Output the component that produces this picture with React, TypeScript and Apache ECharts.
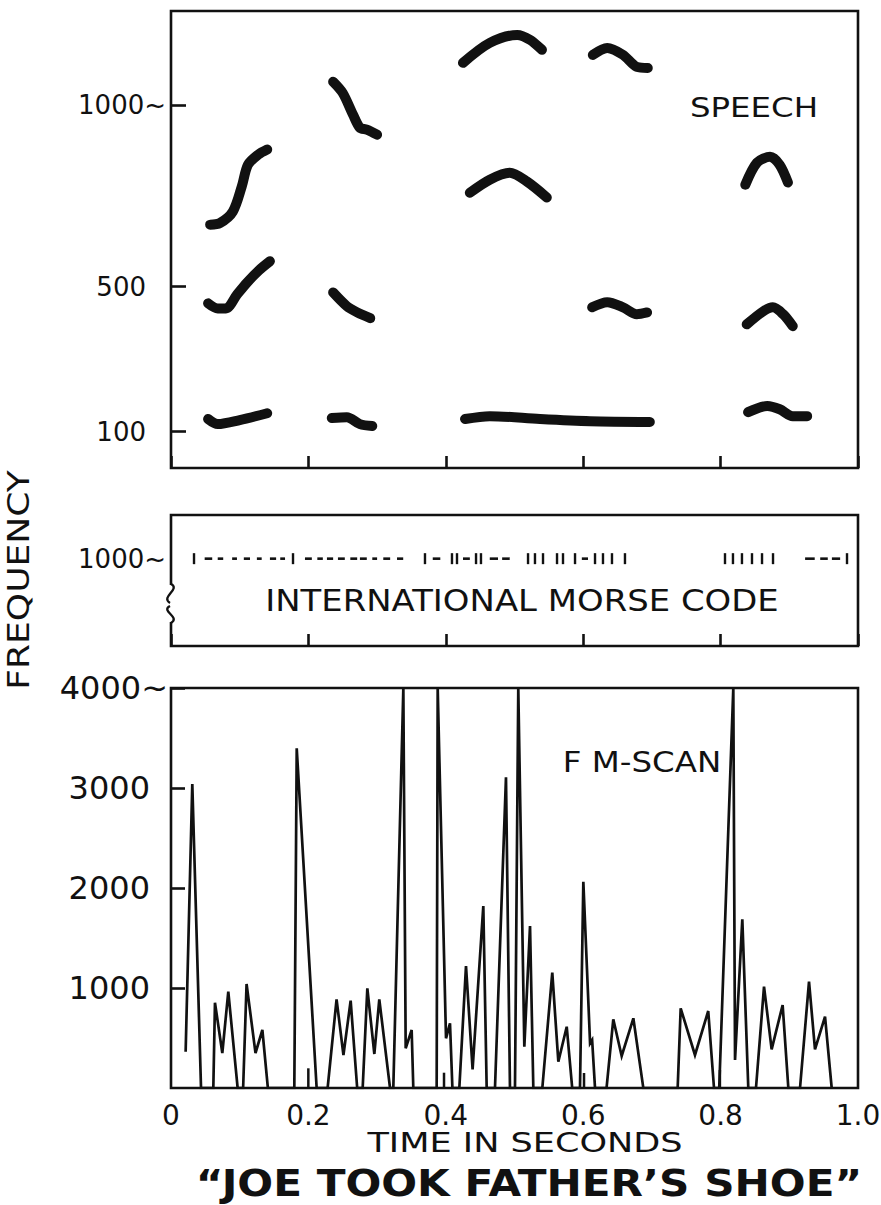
import React, { useEffect, useRef } from "react";
import * as echarts from "echarts";

const INK = "#111111";
const FONT = "DejaVu Sans";

// ---------- axes ----------
const TIME_MIN = 0;
const TIME_MAX = 1.0;
const TIME_STEP = 0.2;
const SPEECH_Y_TICKS = [100, 500, 1000];
const MORSE_Y_TICKS = [1000];
const FM_Y_TICKS = [1000, 2000, 3000, 4000];

// ---------- SPEECH formant strokes: [time s, frequency Hz] ----------
const strokeJoeF1 = [[0.054, 135], [0.068, 121], [0.1, 132], [0.14, 151]];
const strokeJoeF2 = [[0.054, 454], [0.068, 440], [0.08, 440], [0.096, 478], [0.111, 512], [0.128, 545], [0.144, 570]];
const strokeJoeF3 = [[0.057, 671], [0.071, 675], [0.09, 707], [0.103, 776], [0.112, 836], [0.127, 864], [0.14, 878]];
const strokeTookF3 = [[0.236, 1065], [0.25, 1034], [0.265, 974], [0.275, 938], [0.285, 933], [0.3, 919]];
const strokeTookF2 = [[0.236, 484], [0.256, 446], [0.271, 429], [0.29, 413]];
const strokeTookF1 = [[0.234, 138], [0.256, 140], [0.275, 121], [0.293, 116]];
const strokeFaF3 = [[0.425, 1117], [0.464, 1172], [0.504, 1194], [0.523, 1180], [0.54, 1153]];
const strokeFaF2 = [[0.435, 759], [0.464, 795], [0.493, 814], [0.518, 790], [0.547, 746]];
const strokeFaF1 = [[0.428, 135], [0.464, 143], [0.537, 135], [0.61, 129], [0.697, 127]];
const strokeTherF3 = [[0.614, 1139], [0.635, 1158], [0.658, 1139], [0.678, 1106], [0.694, 1103]];
const strokeTherF2 = [[0.613, 443], [0.635, 457], [0.658, 443], [0.678, 424], [0.693, 429]];
const strokeShoeF2 = [[0.836, 781], [0.853, 842], [0.872, 858], [0.886, 836], [0.898, 787]];
const strokeShoeF1b = [[0.838, 396], [0.862, 432], [0.876, 443], [0.891, 424], [0.905, 391]];
const strokeShoeF1 = [[0.84, 154], [0.868, 171], [0.886, 162], [0.905, 143], [0.926, 143]];

const speechStrokes = [
  strokeJoeF1, strokeJoeF2, strokeJoeF3,
  strokeTookF3, strokeTookF2, strokeTookF1,
  strokeFaF3, strokeFaF2, strokeFaF1,
  strokeTherF3, strokeTherF2,
  strokeShoeF2, strokeShoeF1b, strokeShoeF1,
];

// ---------- MORSE: dashes [start s, end s, Hz], dots [time s, Hz] ----------
const morseDashes = [
  [0.049, 0.06, 1000], [0.068, 0.076, 1000], [0.089, 0.096, 1000], [0.106, 0.115, 1000],
  [0.125, 0.132, 1000], [0.144, 0.153, 1000], [0.159, 0.166, 1000],
  [0.195, 0.205, 1000], [0.213, 0.221, 1000], [0.227, 0.236, 1000], [0.243, 0.253, 1000],
  [0.261, 0.271, 1000], [0.275, 0.285, 1000], [0.293, 0.3, 1000], [0.309, 0.319, 1000],
  [0.329, 0.338, 1000],
  [0.381, 0.392, 1000], [0.425, 0.435, 1000], [0.464, 0.476, 1000], [0.482, 0.493, 1000],
  [0.598, 0.607, 1000],
  [0.923, 0.937, 1000], [0.945, 0.956, 1000], [0.962, 0.974, 1000],
];
const morseDots = [
  [0.0335, 1000], [0.1776, 1000], [0.3697, 1000], [0.409, 1000], [0.4163, 1000],
  [0.444, 1000], [0.4512, 1000], [0.5197, 1000], [0.5298, 1000], [0.5415, 1000],
  [0.5619, 1000], [0.5706, 1000], [0.5881, 1000], [0.6172, 1000], [0.6288, 1000],
  [0.6419, 1000], [0.6608, 1000], [0.8064, 1000], [0.818, 1000], [0.8311, 1000],
  [0.8457, 1000], [0.8603, 1000], [0.8763, 1000], [0.984, 1000],
];

// ---------- FM-SCAN trace: [time s, frequency Hz] ----------
const fmScan = [
  [0.0213, 363], [0.031, 3040], [0.0437, 0],
  [0.0616, 0], [0.064, 853], [0.0747, 350], [0.0834, 963], [0.097, 0],
  [0.105, 0], [0.11, 1040], [0.123, 350], [0.133, 580], [0.141, 0],
  [0.1795, 0], [0.183, 3397], [0.212, 0],
  [0.228, 0], [0.241, 887], [0.251, 330], [0.2615, 873], [0.271, 0],
  [0.279, 0], [0.2858, 997], [0.296, 340], [0.3032, 887], [0.3188, 0],
  [0.3236, 0], [0.3382, 4000], [0.3416, 397], [0.3503, 580], [0.3527, 0],
  [0.3867, 0], [0.3882, 4000], [0.4003, 497], [0.4061, 647], [0.4096, 0],
  [0.4197, 0], [0.4294, 1220], [0.439, 187], [0.4546, 1820], [0.4595, 0],
  [0.4716, 0], [0.4876, 3107], [0.4934, 0],
  [0.5007, 0], [0.5055, 4000], [0.5143, 413], [0.5226, 1620], [0.5274, 0],
  [0.5405, 0], [0.555, 1153], [0.5638, 263], [0.576, 613], [0.584, 0],
  [0.5953, 0], [0.6002, 2063], [0.61, 447], [0.613, 480], [0.6172, 0],
  [0.634, 0], [0.6438, 687], [0.656, 320], [0.673, 697], [0.6875, 0],
  [0.7375, 0], [0.7419, 797], [0.7627, 330], [0.782, 770], [0.7904, 0],
  [0.798, 0], [0.8185, 4000], [0.821, 280], [0.8316, 1687], [0.8403, 0],
  [0.8515, 0], [0.8632, 1013], [0.8743, 387], [0.8903, 830], [0.8986, 0],
  [0.9156, 0], [0.9287, 1063], [0.9374, 387], [0.952, 713], [0.9617, 0],
];
const fmSmallSpikes = [[0.1999, 197], [0.3974, 153], [0.6012, 150], [0.799, 180]];

function tildeLabel(tilded: number, fontSize: number, pad: number) {
  return {
    formatter: (v: number) => (v === tilded ? `${v}~` : `{p|${v}}`),
    rich: { p: { padding: [0, pad, 0, 0], fontSize, fontFamily: FONT, color: INK } },
  };
}

export default function App() {
  const ref = useRef<HTMLDivElement>(null);

  useEffect(() => {
    if (!ref.current) return;
    const chart = echarts.init(ref.current, null, { renderer: "svg" });

    const grids = [
      { left: 171, top: 11, width: 687, height: 457 },
      { left: 171, top: 515, width: 687, height: 131 },
      { left: 171, top: 688, width: 687, height: 400 },
    ].map((g) => ({
      ...g,
      show: true,
      borderColor: INK,
      borderWidth: 2.6,
      backgroundColor: "transparent",
      containLabel: false,
      outerBoundsMode: "none",
    }));

    const tickStyle = { color: INK, width: 2.6 };

    const xAxes = [0, 1, 2].map((i) => ({
      type: "value",
      gridIndex: i,
      min: TIME_MIN,
      max: TIME_MAX,
      interval: TIME_STEP,
      axisLine: { show: false },
      splitLine: { show: false },
      axisTick: { show: i < 2, inside: true, length: 12, lineStyle: tickStyle },
      axisLabel:
        i === 2
          ? {
              show: true,
              margin: 13,
              fontSize: 28,
              fontFamily: FONT,
              color: INK,
              formatter: (v: number) => (v === 0 ? "0" : v.toFixed(1)),
            }
          : { show: false },
    }));

    const yAxes = [
      {
        type: "value",
        gridIndex: 0,
        min: 0,
        max: 1260,
        axisLine: { show: false },
        splitLine: { show: false },
        axisTick: { show: true, inside: true, length: 15, lineStyle: tickStyle, customValues: SPEECH_Y_TICKS },
        axisLabel: {
          show: true,
          customValues: SPEECH_Y_TICKS,
          margin: 5,
          fontSize: 26,
          fontFamily: FONT,
          color: INK,
          ...tildeLabel(1000, 26, 20),
        },
      },
      {
        type: "value",
        gridIndex: 1,
        min: 0,
        max: 1500,
        axisLine: { show: false },
        splitLine: { show: false },
        axisTick: { show: false },
        axisLabel: {
          show: true,
          customValues: MORSE_Y_TICKS,
          margin: 5,
          fontSize: 26,
          fontFamily: FONT,
          color: INK,
          formatter: (v: number) => `${v}~`,
        },
      },
      {
        type: "value",
        gridIndex: 2,
        min: 0,
        max: 4000,
        interval: 1000,
        axisLine: { show: false },
        splitLine: { show: false },
        axisTick: { show: true, inside: true, length: 14, lineStyle: tickStyle, customValues: FM_Y_TICKS },
        axisLabel: {
          show: true,
          customValues: FM_Y_TICKS,
          margin: 3,
          fontSize: 32,
          fontFamily: FONT,
          color: INK,
          ...tildeLabel(4000, 32, 18),
        },
      },
    ];

    const speechSeries = speechStrokes.map((data, k) => ({
      type: "line",
      name: `speech-${k}`,
      xAxisIndex: 0,
      yAxisIndex: 0,
      data,
      smooth: 0.3,
      showSymbol: false,
      symbol: "none",
      lineStyle: { color: INK, width: 10, cap: "round", join: "round" },
      silent: true,
    }));

    const series: any[] = [
      ...speechSeries,
      {
        type: "custom",
        name: "morse-dashes",
        xAxisIndex: 1,
        yAxisIndex: 1,
        data: morseDashes,
        encode: { x: [0, 1], y: 2 },
        renderItem: (_p: any, api: any) => {
          const a = api.coord([api.value(0), api.value(2)]);
          const b = api.coord([api.value(1), api.value(2)]);
          return {
            type: "line",
            shape: { x1: a[0], y1: a[1], x2: b[0], y2: b[1] },
            style: { stroke: INK, lineWidth: 2.6 },
          };
        },
        silent: true,
      },
      {
        type: "custom",
        name: "morse-dots",
        xAxisIndex: 1,
        yAxisIndex: 1,
        data: morseDots,
        encode: { x: 0, y: 1 },
        renderItem: (_p: any, api: any) => {
          const p = api.coord([api.value(0), api.value(1)]);
          return {
            type: "line",
            shape: { x1: p[0], y1: p[1] - 5.5, x2: p[0], y2: p[1] + 5.5 },
            style: { stroke: INK, lineWidth: 2.4 },
          };
        },
        silent: true,
      },
      {
        type: "line",
        name: "fm-scan",
        xAxisIndex: 2,
        yAxisIndex: 2,
        data: fmScan,
        showSymbol: false,
        symbol: "none",
        lineStyle: { color: INK, width: 2.7, join: "miter" },
        silent: true,
      },
      {
        type: "bar",
        name: "fm-spikes",
        xAxisIndex: 2,
        yAxisIndex: 2,
        data: fmSmallSpikes,
        barWidth: 2.5,
        itemStyle: { color: INK },
        silent: true,
      },
    ];

    const txt = (
      text: string,
      x: number,
      y: number,
      fontSize: number,
      scaleX = 1,
      extra: any = {}
    ) => ({
      type: "text",
      x,
      y,
      scaleX,
      silent: true,
      ...extra,
      style: {
        text,
        fill: INK,
        fontSize,
        fontFamily: FONT,
        fontWeight: extra.bold ? "bold" : "normal",
        align: "center",
        verticalAlign: "middle",
        textAlign: "center",
        textVerticalAlign: "middle",
      },
    });

    const graphic: any[] = [
      txt("SPEECH", 754, 107, 27, 1.2),
      txt("INTERNATIONAL MORSE CODE", 522, 601, 30, 1.13),
      txt("F M-SCAN", 642, 762, 29, 1.12),
      txt("FREQUENCY", 19, 580, 30, 1.2, { rotation: Math.PI / 2 }),
      txt("TIME IN SECONDS", 525, 1143, 27, 1.3),
      txt("\u201CJOE TOOK FATHER\u2019S SHOE\u201D", 529, 1183, 38, 1.11, { bold: true }),
      // axis break on the Morse panel's left edge
      { type: "rect", shape: { x: 165, y: 585, width: 12, height: 37 }, style: { fill: "#fff" }, silent: true },
      {
        type: "bezierCurve",
        shape: { x1: 171, y1: 584, cpx1: 181, cpy1: 589, cpx2: 160, cpy2: 597, x2: 170, y2: 603 },
        style: { stroke: INK, lineWidth: 2.3, fill: null },
        silent: true,
      },
      {
        type: "bezierCurve",
        shape: { x1: 170, y1: 606, cpx1: 160, cpy1: 611, cpx2: 181, cpy2: 617, x2: 171, y2: 623 },
        style: { stroke: INK, lineWidth: 2.3, fill: null },
        silent: true,
      },
    ];

    chart.setOption({
      animation: false,
      backgroundColor: "#ffffff",
      textStyle: { fontFamily: FONT, color: INK },
      grid: grids,
      xAxis: xAxes,
      yAxis: yAxes,
      series,
      graphic,
    });

    return () => chart.dispose();
  }, []);

  return (
    <div
      ref={ref}
      style={{ position: "absolute", left: 0, top: 0, width: 881, height: 1205, background: "#fff" }}
    />
  );
}
